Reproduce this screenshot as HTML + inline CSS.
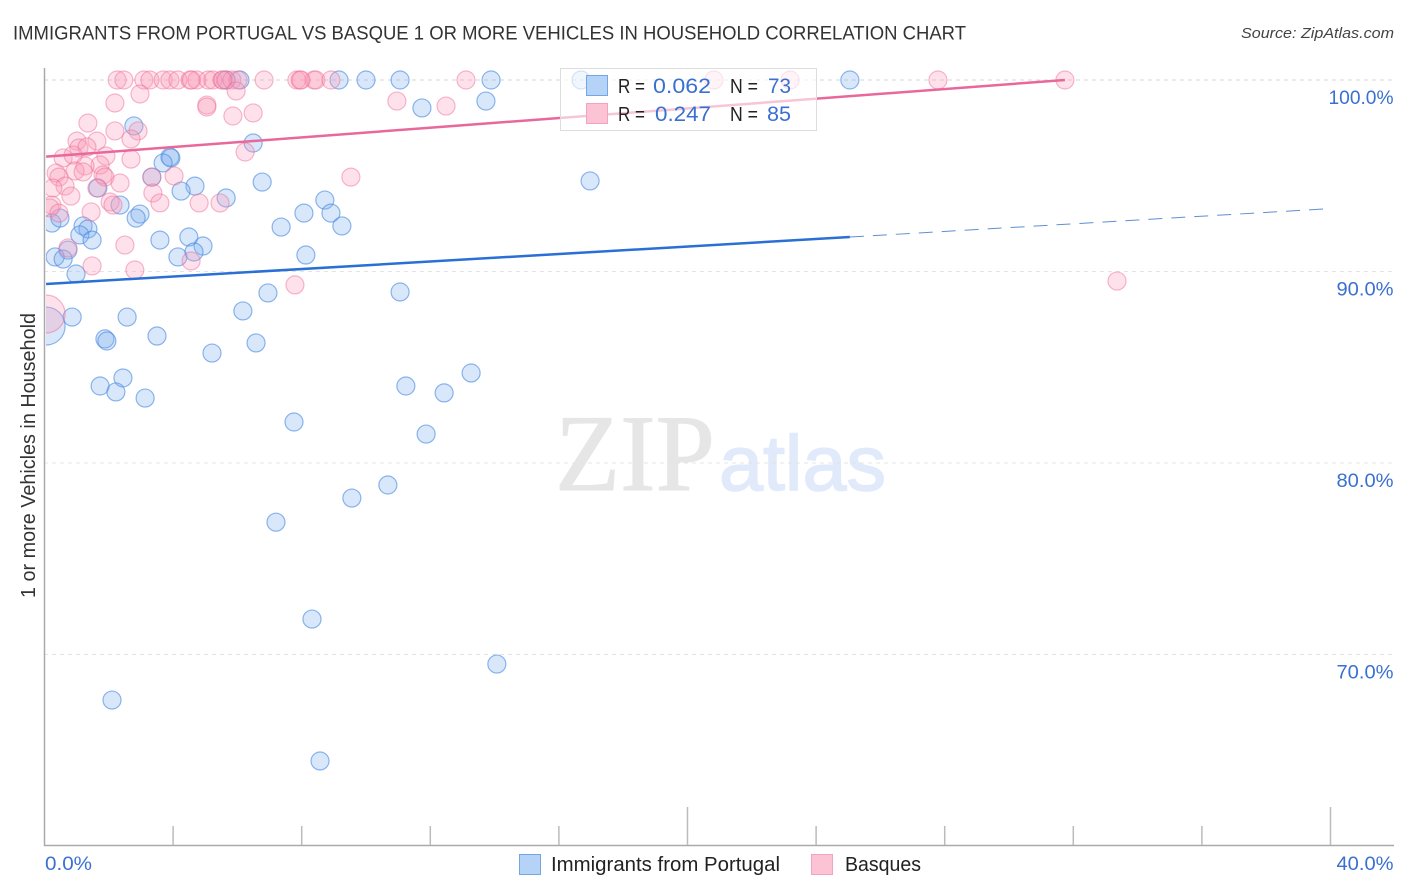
<!DOCTYPE html>
<html lang="en">
<head>
<meta charset="utf-8">
<title>Immigrants from Portugal vs Basque correlation chart</title>
<style>
html,body{margin:0;padding:0;background:#fff;width:1406px;height:892px;overflow:hidden}
svg{display:block}
text{font-family:"Liberation Sans",sans-serif}
</style>
</head>
<body>
<svg id="chart" xmlns="http://www.w3.org/2000/svg" width="1406" height="892" viewBox="0 0 1406 892">
  <defs>
    <clipPath id="plot-clip"><rect x="46" y="60" width="1348" height="786"/></clipPath>
  </defs>
  <text x="13" y="39.5" font-size="19.5" fill="#333" textLength="953" lengthAdjust="spacingAndGlyphs">IMMIGRANTS FROM PORTUGAL VS BASQUE 1 OR MORE VEHICLES IN HOUSEHOLD CORRELATION CHART</text>
  <text x="1241" y="38" font-size="15" font-style="italic" fill="#444" textLength="153" lengthAdjust="spacingAndGlyphs">Source: ZipAtlas.com</text>
  <g>
    <text x="555" y="490" font-size="109" fill="#e6e6e6" stroke="#e6e6e6" stroke-width="1" style="font-family:'Liberation Serif',serif" textLength="160" lengthAdjust="spacingAndGlyphs">ZIP</text>
    <text x="719" y="490" font-size="78" fill="#e0eafa" stroke="#e0eafa" stroke-width="1.5" textLength="167" lengthAdjust="spacingAndGlyphs">atlas</text>
  </g>
  <g id="grid"></g>
  <g id="axes"></g>
  <g id="marks" clip-path="url(#plot-clip)"></g>
  <text transform="translate(35,598) rotate(-90)" font-size="20" fill="#333" textLength="285" lengthAdjust="spacingAndGlyphs">1 or more Vehicles in Household</text>
  <g>
    <rect x="560.5" y="68.5" width="256" height="62" fill="#fff" fill-opacity="0.62" stroke="#ddd" stroke-width="1"/>
    <rect x="586.5" y="75.5" width="21" height="20" fill="#b5d2f7" stroke="#74a6e6"/>
    <rect x="586.5" y="103.5" width="21" height="20" fill="#fcc3d5" stroke="#f3a3bd"/>
    <text x="618" y="93" font-size="20" fill="#222" textLength="27" lengthAdjust="spacingAndGlyphs">R =</text>
    <text x="653" y="93" font-size="21" fill="#3a70d0" textLength="58" lengthAdjust="spacingAndGlyphs">0.062</text>
    <text x="730" y="93" font-size="20" fill="#222" textLength="28" lengthAdjust="spacingAndGlyphs">N =</text>
    <text x="768" y="93" font-size="21" fill="#3a70d0" textLength="23" lengthAdjust="spacingAndGlyphs">73</text>
    <text x="618" y="121" font-size="20" fill="#222" textLength="27" lengthAdjust="spacingAndGlyphs">R =</text>
    <text x="655" y="121" font-size="21" fill="#3a70d0" textLength="56" lengthAdjust="spacingAndGlyphs">0.247</text>
    <text x="730" y="121" font-size="20" fill="#222" textLength="28" lengthAdjust="spacingAndGlyphs">N =</text>
    <text x="767" y="121" font-size="21" fill="#3a70d0" textLength="24" lengthAdjust="spacingAndGlyphs">85</text>
  </g>
  <g>
    <rect x="519.5" y="854.5" width="21" height="20" fill="#b5d2f7" stroke="#74a6e6"/>
    <text x="551" y="871" font-size="20" fill="#222" textLength="229" lengthAdjust="spacingAndGlyphs">Immigrants from Portugal</text>
    <rect x="811.5" y="854.5" width="21" height="20" fill="#fcc3d5" stroke="#f3a3bd"/>
    <text x="845" y="871" font-size="20" fill="#222" textLength="76" lengthAdjust="spacingAndGlyphs">Basques</text>
  </g>
</svg>
<script>
const yTicks = [100, 90, 80, 70];
const yTickLabels = ["100.0%", "90.0%", "80.0%", "70.0%"];
const xTicks = [4, 8, 12, 16, 20, 24, 28, 32, 36, 40];
const xMajorTicks = [20, 40];
const xEndLabels = ["0.0%", "40.0%"];

const portugalX = [5.65,6.08,9.16,10.00,11.06,13.89,16.69,25.05,11.74,13.73,2.78,6.49,3.90,3.93,3.69,3.34,1.66,4.68,4.25,6.77,16.97,5.65,2.35,8.72,8.07,8.91,2.97,2.85,0.23,0.48,7.36,9.25,1.20,1.35,1.10,1.48,3.59,4.49,4.93,0.73,0.33,0.58,4.15,4.65,8.13,0.98,6.95,11.06,6.17,0.86,2.57,0.05,1.88,1.94,3.50,6.58,5.21,13.27,2.44,1.73,11.24,2.22,3.13,12.43,7.76,11.87,10.68,9.56,7.20,8.32,14.07,2.10,8.57];
const portugalY = [100,100,100,100,100,100,100,100,98.54,98.90,97.60,96.71,95.98,95.93,95.67,94.93,94.36,94.46,94.20,94.67,94.73,93.84,93.47,93.73,93.05,93.05,93.00,92.79,92.53,92.79,92.32,92.38,92.38,92.22,91.91,91.64,91.64,91.80,91.33,91.12,90.76,90.65,90.76,91.02,90.86,89.87,88.88,88.93,87.94,87.62,87.62,87.15,86.48,86.37,86.63,86.27,85.74,84.70,84.44,84.02,84.02,83.71,83.39,83.66,82.14,81.51,78.85,78.17,76.91,71.85,69.50,67.62,64.44];

const basquesX = [2.26,2.47,3.09,3.28,3.69,3.90,4.15,4.53,4.74,5.09,5.24,5.52,5.64,5.83,6.02,6.83,7.85,7.95,8.38,8.44,8.91,13.11,20.82,23.19,27.79,31.74,4.57,5.55,7.98,2.19,2.97,5.05,5.05,5.86,6.49,5.96,1.35,2.19,2.91,2.69,1.01,1.63,1.07,1.32,0.58,0.89,1.91,2.69,6.24,1.73,1.26,0.95,1.20,0.36,0.45,1.82,1.88,0.64,2.35,3.34,4.03,0.26,0.82,1.63,3.37,3.59,2.04,2.13,4.81,5.46,0.23,0.17,0.45,1.45,0.73,2.50,1.48,2.81,4.56,7.79,33.36,0.05,10.96,12.49,9.53];
const basquesY = [100,100,100,100,100,100,100,100,100,100,100,100,100,100,100,100,100,100,100,100,100,100,100,100,100,100,100,100,100,98.80,99.27,98.69,98.59,98.12,98.28,99.43,97.75,97.34,97.34,96.92,96.81,96.81,96.45,96.50,95.93,96.08,96.03,95.87,96.24,95.56,95.51,95.25,95.20,95.14,94.93,95.04,94.93,94.46,94.62,94.93,94.99,94.36,93.94,94.36,94.10,93.58,93.63,93.47,93.58,93.58,93.47,93.32,93.05,93.11,91.23,91.38,90.29,90.08,90.55,89.30,89.50,87.78,98.90,98.64,94.93];

const portugalTrendX = [0.05, 25.05];
const portugalTrendY = [89.35, 91.80];
const portugalForecastX = [25.05, 39.95];
const portugalForecastY = [91.80, 93.28];
const basquesTrendX = [0.05, 31.74];
const basquesTrendY = [96.00, 100];

const SVG_NS = "http://www.w3.org/2000/svg";
const xScale = function (v) { return 44.5 + v * 32.15; };
const yScale = function (v) { return 80 + (100 - v) * 19.15; };
const grid = document.getElementById("grid");
const axes = document.getElementById("axes");
const marks = document.getElementById("marks");

function makeLine(x1, y1, x2, y2, stroke, width) {
  const l = document.createElementNS(SVG_NS, "line");
  l.setAttribute("x1", x1);
  l.setAttribute("y1", y1);
  l.setAttribute("x2", x2);
  l.setAttribute("y2", y2);
  l.setAttribute("stroke", stroke);
  l.setAttribute("stroke-width", width);
  return l;
}

function makeLabel(x, y, content, anchor) {
  const t = document.createElementNS(SVG_NS, "text");
  t.setAttribute("x", x);
  t.setAttribute("y", y);
  t.setAttribute("font-size", 19.5);
  t.setAttribute("fill", "#3a70d0");
  t.setAttribute("text-anchor", anchor);
  t.setAttribute("textLength", content.length >= 6 ? 65 : (content.length === 5 ? 57 : 47));
  t.setAttribute("lengthAdjust", "spacingAndGlyphs");
  t.textContent = content;
  return t;
}

yTicks.forEach(function (v, i) {
  const g = makeLine(44, yScale(v), 1394, yScale(v), i === 0 ? "#d4d4d4" : "#e4e4e4", 1);
  g.setAttribute("stroke-dasharray", "4 4");
  
  
  grid.appendChild(g);
  const t = makeLabel(1393.5, yScale(v) + 24, yTickLabels[i], "end");
  
  
  axes.appendChild(t);
});

const yAxisLine = makeLine(44.5, 68, 44.5, 846, "#aaaaaa", 1.5);


axes.appendChild(yAxisLine);

const xAxisLine = makeLine(44, 845.5, 1394, 845.5, "#aaaaaa", 1.5);


axes.appendChild(xAxisLine);

xTicks.forEach(function (v) {
  const top = xMajorTicks.indexOf(v) >= 0 ? 807 : 826;
  const tick = makeLine(xScale(v), top, xScale(v), 845, "#bbbbbb", 1.5);
  
  
  axes.appendChild(tick);
});

const xLabelStart = makeLabel(45, 870, xEndLabels[0], "start");


axes.appendChild(xLabelStart);

const xLabelEnd = makeLabel(1393.5, 870, xEndLabels[1], "end");


axes.appendChild(xLabelEnd);

function radiusFor(xValue) {
  return xValue < 0.1 ? 19 : 9;
}

portugalX.forEach(function (v, i) {
  const c = document.createElementNS(SVG_NS, "circle");
  c.setAttribute("cx", xScale(v));
  c.setAttribute("cy", yScale(portugalY[i]));
  c.setAttribute("r", radiusFor(v));
  c.setAttribute("fill", "#7fb0f0");
  c.setAttribute("fill-opacity", "0.3");
  c.setAttribute("stroke", "#4a8ae0");
  c.setAttribute("stroke-opacity", "0.62");
  c.setAttribute("stroke-width", "1.2");
  
  
  marks.appendChild(c);
});

basquesX.forEach(function (v, i) {
  const c = document.createElementNS(SVG_NS, "circle");
  c.setAttribute("cx", xScale(v));
  c.setAttribute("cy", yScale(basquesY[i]));
  c.setAttribute("r", radiusFor(v));
  c.setAttribute("fill", "#fb9db9");
  c.setAttribute("fill-opacity", "0.3");
  c.setAttribute("stroke", "#ec6d96");
  c.setAttribute("stroke-opacity", "0.48");
  c.setAttribute("stroke-width", "1.2");
  
  
  marks.appendChild(c);
});

const portugalTrend = makeLine(xScale(portugalTrendX[0]), yScale(portugalTrendY[0]), xScale(portugalTrendX[1]), yScale(portugalTrendY[1]), "#2a6fd4", 2.5);


marks.appendChild(portugalTrend);

const portugalForecast = makeLine(xScale(portugalForecastX[0]), yScale(portugalForecastY[0]), xScale(portugalForecastX[1]), yScale(portugalForecastY[1]), "#5f8fcf", 1);
portugalForecast.setAttribute("stroke-dasharray", "14 9");


marks.appendChild(portugalForecast);

const basquesTrend = makeLine(xScale(basquesTrendX[0]), yScale(basquesTrendY[0]), xScale(basquesTrendX[1]), yScale(basquesTrendY[1]), "#e8689a", 2.5);


marks.appendChild(basquesTrend);
</script>
</body>
</html>
